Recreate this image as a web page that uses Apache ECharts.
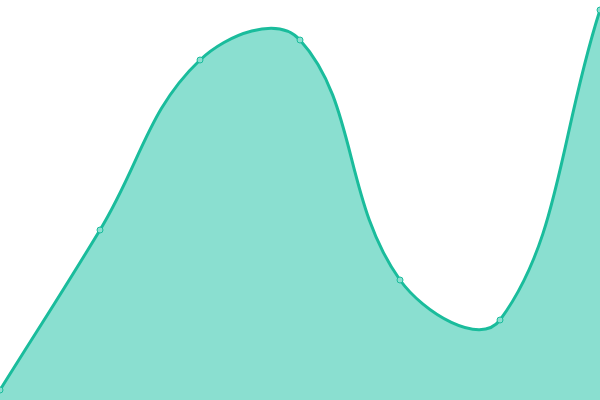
<!DOCTYPE html>
<html>
<head>
<meta charset="utf-8">
<script src="https://cdn.jsdelivr.net/npm/echarts@6/dist/echarts.min.js"></script>
<style>
html, body { margin: 0; padding: 0; background: #fff; }
#main { width: 600px; height: 400px; }
</style>
</head>
<body>
<div id="main"></div>
<script>
var categories = ['A', 'B', 'C', 'D', 'E', 'F', 'G'];
var values = [10, 170, 340, 360, 120, 80, 390];

var LineColor = '#1abc9c';
var FillColor = '#8adfd0';
var tension = 0.4;

// spline control points (distance weighted, like a cardinal spline)
function controlPoints(pts, area){
	var out = [];
	for (var i = 0; i < pts.length; i++){
		var prev = pts[i - 1] || pts[i];
		var cur = pts[i];
		var next = pts[i + 1] || pts[i];
		var d01 = Math.hypot(cur[0] - prev[0], cur[1] - prev[1]);
		var d12 = Math.hypot(next[0] - cur[0], next[1] - cur[1]);
		var s01 = d01 / (d01 + d12) || 0;
		var s12 = d12 / (d01 + d12) || 0;
		var fa = tension * s01, fb = tension * s12;
		var cp1 = [cur[0] - fa * (next[0] - prev[0]), cur[1] - fa * (next[1] - prev[1])];
		var cp2 = [cur[0] + fb * (next[0] - prev[0]), cur[1] + fb * (next[1] - prev[1])];
		// keep inside the plot
		[cp1, cp2].forEach(function(p){
			p[0] = Math.min(Math.max(p[0], area.x), area.x + area.width);
			p[1] = Math.min(Math.max(p[1], area.y), area.y + area.height);
		});
		out.push({ before: cp1, after: cp2 });
	}
	return out;
}

function renderCurve(params, api){
	if (params.dataIndex !== 0) return;
	var area = params.coordSys;
	var pts = values.map(function(v, i){ return api.coord([i, v]); });
	var cps = controlPoints(pts, area);
	var d = 'M' + pts[0][0] + ' ' + pts[0][1];
	for (var i = 1; i < pts.length; i++){
		var a = cps[i - 1].after, b = cps[i].before;
		d += ' C' + a[0] + ' ' + a[1] + ' ' + b[0] + ' ' + b[1] + ' ' + pts[i][0] + ' ' + pts[i][1];
	}
	var base = api.coord([0, 0])[1];
	var last = pts[pts.length - 1];
	var fillPath = d + ' L' + last[0] + ' ' + base + ' L' + pts[0][0] + ' ' + base + ' Z';
	return {
		type: 'group',
		children: [
			{ type: 'path', shape: { pathData: fillPath }, style: { fill: FillColor, stroke: null } },
			{ type: 'path', shape: { pathData: d }, style: { fill: null, stroke: LineColor, lineWidth: 3 } }
		]
	};
}

var chart = echarts.init(document.getElementById('main'));
chart.setOption({
	animation: false,
	grid: { left: 0, right: 0, top: 0, bottom: 0 },
	xAxis: {
		type: 'category',
		data: categories,
		boundaryGap: false,
		show: false
	},
	yAxis: {
		type: 'value',
		min: 0,
		max: 400,
		show: false
	},
	series: [{
		type: 'custom',
		renderItem: renderCurve,
		data: values,
		clip: false,
		z: 1
	}, {
		type: 'line',
		data: values,
		symbol: 'circle',
		symbolSize: 6,
		lineStyle: { width: 0, opacity: 0 },
		itemStyle: { color: FillColor, borderColor: LineColor, borderWidth: 1 },
		z: 3
	}]
});
</script>
</body>
</html>
